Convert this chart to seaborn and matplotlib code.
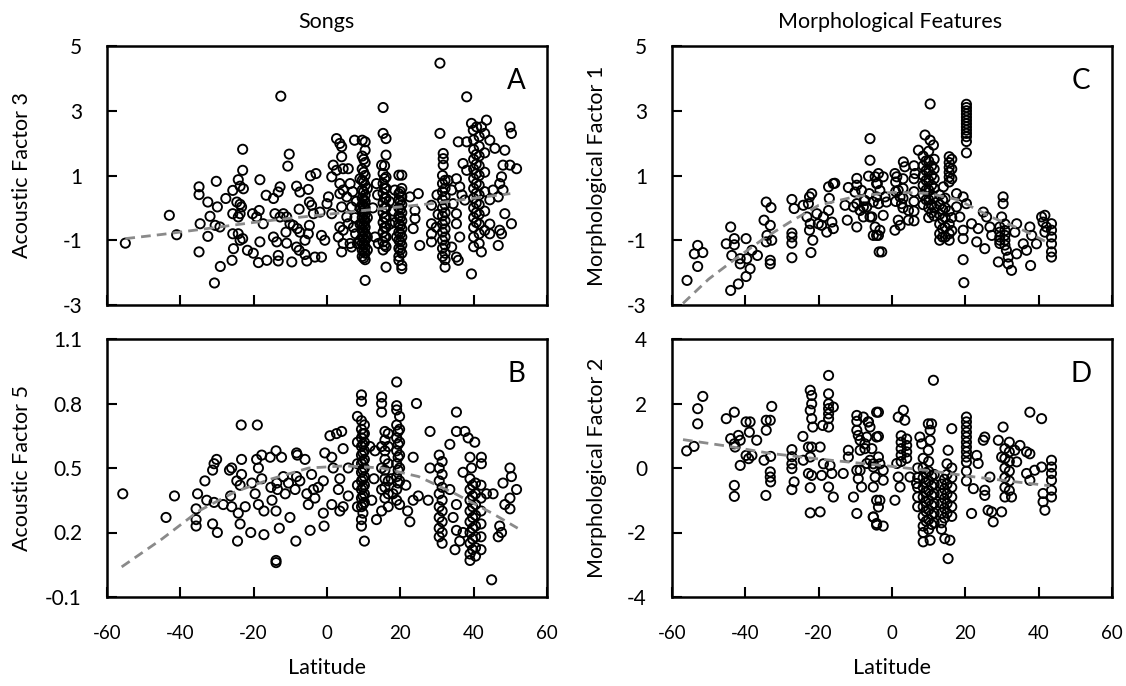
import matplotlib
matplotlib.use("Agg")
import matplotlib.pyplot as plt
import seaborn as sns
import pandas as pd

# ---------------- Panel A: Songs, Acoustic Factor 3 ----------------
A_lat = [
    -55.0, -43.0, -41.0, -34.9, -34.9, -34.6, -34.9, -32.5, -32.5, -31.9, -30.2, -29.9, -30.5, -29.2, -29.1, -30.7,
    -27.6, -25.7, -24.2, -23.7, -22.8, -23.0, -23.0, -25.7, -24.6, -23.7, -23.3, -23.7, -24.2, -25.7, -24.2, -23.7,
    -23.0, -25.5, -25.9, -21.7, -20.1, -18.3, -20.3, -18.5, -19.2, -18.3, -18.7, -16.6, -17.4, -16.4, -14.6, -13.3,
    -12.8, -12.6, -10.3, -10.7, -14.6, -13.7, -13.3, -13.3, -14.2, -12.8, -11.9, -11.0, -11.2, -11.0, -9.6, -10.1,
    -9.2, -8.3, -7.4, -7.6, -8.1, -7.4, -8.3, -7.6, -6.0, -5.5, -5.1, -4.5, -3.0, -4.8, -4.2, -3.7,
    -4.8, -5.1, -6.0, -3.3, -1.5, -1.5, -0.6, -1.9, 0.0, 1.3, 0.4, 1.3, 1.7, 2.6, 3.5, 4.0,
    4.0, 2.6, 4.4, 5.8, 3.5, 4.4, 5.4, 3.5, 4.0, 5.4, 3.5, 4.4, 3.1, 4.4, 6.3, 4.0,
    6.7, 6.3, 6.7, 5.8, 7.5, 8.0, 7.2, 7.8, 8.3, 7.0, 7.6, 14.9, 13.5, 13.1, 14.0, 13.8,
    12.5, 17.0, 17.2, 18.5, 18.2, 18.6, 19.0, 22.6, 24.9, 24.0, 24.0, 23.5, 25.3, 30.8, 30.8, 31.7,
    31.7, 31.7, 28.5, 28.5, 28.5, 28.5, 30.0, 30.3, 29.8, 33.0, 35.3, 34.0, 36.2, 34.4, 35.3, 35.3,
    36.2, 34.0, 35.3, 35.8, 35.8, 38.1, 38.1, 37.1, 38.1, 37.6, 36.8, 39.4, 39.9, 40.8, 42.1, 43.5,
    39.4, 42.1, 44.4, 44.4, 45.8, 48.5, 49.9, 50.3, 48.0, 49.9, 51.7, 47.6, 47.1, 48.0, 45.3, 46.7,
    44.4, 48.5, 50.3, 47.1, 47.6, 44.4, 46.7,
]
A_val = [
    -1.09, -0.23, -0.83, 0.65, 0.41, -0.49, -1.36, 0.18, -0.88, -0.26, 0.82, 0.03, -0.54, -0.59, -1.81, -2.32,
    0.29, 0.54, 0.87, 0.67, 0.59, 1.81, 1.16, -0.18, 0.18, 0.11, 0.03, -0.18, -0.28, -0.80, -0.80, -1.00,
    -0.95, -1.26, -1.62, -1.31, -1.40, 0.87, -0.18, -0.08, -0.28, -1.05, -1.69, 0.39, -0.49, -1.62, 0.29, 0.49,
    0.65, 3.45, 1.66, 1.29, -0.90, -1.05, -1.47, -1.64, -0.18, -0.28, -0.18, -0.28, -0.75, -1.09, -1.67, -0.49,
    -0.54, 0.67, 0.49, -0.04, -0.64, -0.75, -1.21, -1.31, -1.44, -1.64, 0.57, 0.99, 1.06, 0.18, 0.08, -0.18,
    -0.54, -0.80, -1.00, -1.52, -1.52, -0.85, -1.00, -0.13, 0.13, -0.18, 0.34, 0.96, 1.32, 2.14, 1.99, 1.89,
    1.58, 1.16, 1.21, 1.21, 0.75, 0.55, 0.34, 0.44, 0.03, -0.28, -0.59, -0.69, -0.90, -1.10, -1.10, -1.36,
    -1.21, 0.75, 0.03, -0.49, 2.09, 0.20, -0.60, -0.80, -1.10, 0.50, -0.30, 1.32, 0.75, -0.90, -1.10, 0.40,
    0.00, 0.20, -0.50, 0.55, -0.10, -0.45, -0.90, 0.34, 0.44, -0.08, -0.33, -0.64, -1.16, 4.47, 2.30, 1.68,
    1.52, 1.32, 0.08, -0.49, -0.80, -1.05, 0.40, -0.20, -0.60, 0.85, 0.90, 0.55, 0.65, 0.13, -0.18, -0.49,
    -0.90, -1.21, -1.52, -1.62, 2.04, 2.04, 3.43, 1.37, 1.16, 0.24, 0.40, 2.61, 2.40, 2.50, 2.50, 2.71,
    -2.04, -1.36, -0.80, 2.09, 1.84, 1.78, 2.50, 2.30, 1.32, 1.32, 1.21, 0.96, 0.75, 0.55, 0.55, 0.34,
    0.25, -0.18, -0.49, -0.69, -0.80, -0.50, -1.16,
]
A_col_lat = [9.0, 9.6, 10.0, 10.4, 11.0, 15.3, 15.7, 16.1, 19.6, 20.0, 20.4, 31.5, 32.2, 40.0, 40.7, 41.5, 43.0]
A_col_val = [
    [0.9, 0.0, -0.5, -1.0],
    [2.09, 1.6, 1.2, 0.85, 0.55, 0.3, 0.1, -0.1, -0.3, -0.5, -0.7, -0.9, -1.1, -1.3, -1.5],
    [1.5, 1.1, 0.8, 0.5, 0.25, 0.05, -0.15, -0.35, -0.55, -0.75, -0.95, -1.15, -1.35, -1.55],
    [2.04, 1.78, 1.4, 1.0, 0.7, 0.4, 0.2, 0.0, -0.2, -0.4, -0.6, -0.8, -1.0, -1.2, -1.4, -1.6, -2.24],
    [0.6, -0.3, -0.9, -1.3],
    [3.1, 2.3, 1.06, 0.75, 0.45, 0.15, -0.15, -0.45, -0.75, -1.05, -1.3],
    [1.3, 0.9, 0.6, 0.3, 0.0, -0.3, -0.6, -0.9, -1.15],
    [2.14, 1.63, 0.95, 0.6, 0.3, 0.0, -0.3, -0.6, -0.9, -1.2, -1.83],
    [1.01, 0.44, 0.25, 0.0, -0.25, -0.5, -0.75, -1.0, -1.25, -1.5, -1.62],
    [0.5, 0.2, -0.05, -0.3, -0.55, -0.8, -1.05, -1.3],
    [1.01, 0.6, 0.35, 0.1, -0.15, -0.4, -0.65, -0.9, -1.15, -1.4, -1.78, -1.88],
    [1.0, 0.75, 0.5, 0.25, 0.0, -0.25, -0.5, -0.75, -1.0, -1.25, -1.5],
    [0.85, 0.6, 0.35, 0.1, -0.15, -0.4, -0.65, -0.9, -1.15, -1.4, -1.6, -1.83],
    [2.1, 1.8, 1.5, 1.2, 0.9, 0.6, 0.3, 0.0, -0.3, -0.6, -0.9, -1.2],
    [1.65, 1.35, 1.05, 0.75, 0.45, 0.15, -0.15, -0.45],
    [2.2, 1.9, 1.6, 1.3, 1.0, 0.7, 0.4, 0.1, -0.2, -0.5, -0.8, -1.1],
    [2.3, 1.7, 1.1, 0.5, -0.1, -0.7],
]
A_trend_lat = [-55, -45, -30, -20, -10, 0, 10, 20, 30, 40, 50]
A_trend_val = [-0.95, -0.82, -0.60, -0.45, -0.32, -0.20, -0.08, 0.03, 0.15, 0.30, 0.44]

# ---------------- Panel B: Songs, Acoustic Factor 5 ----------------
B_lat = [
    -55.7, -43.9, -41.6, -35.3, -35.7, -35.7, -35.7, -33.3, -32.8, -31.2, -29.9, -31.2, -30.8, -30.1, -30.8, -28.3,
    -26.6, -26.0, -26.0, -26.3, -24.4, -24.2, -23.7, -24.6, -23.7, -23.3, -23.3, -22.3, -23.4, -19.0, -20.8, -20.5,
    -19.6, -19.2, -18.7, -18.7, -17.8, -17.8, -17.2, -17.2, -15.5, -15.3, -15.0, -13.9, -13.7, -13.5, -13.9, -13.9,
    -13.9, -13.0, -12.4, -11.9, -11.4, -10.5, -10.1, -8.7, -8.3, -8.1, -8.3, -8.5, -7.4, -6.0, -5.5, -5.1,
    -4.6, -4.2, -3.7, -3.3, -2.4, -1.0, -1.0, -0.8, -0.6, 0.8, 1.3, 1.7, 1.3, 2.6, 4.0, 4.4,
    3.5, 3.1, 3.5, 4.4, 5.8, 5.8, 11.7, 13.1, 12.2, 13.5, 12.8, 22.6, 23.5, 24.4, 23.5, 24.9,
    27.6, 28.1, 28.1, 33.5, 35.3, 35.3, 37.6, 38.5, 40.3, 39.0, 42.1, 42.1, 37.1, 39.4, 33.5, 35.3,
    34.4, 35.3, 34.9, 36.2, 37.1, 44.9, 43.5, 45.3, 47.1, 47.6, 46.7, 48.0, 49.9, 50.3, 51.7, 49.9,
    49.9, 48.5, 17.5, 18.0, 21.5, 22.0,
]
B_val = [
    0.38, 0.27, 0.37, 0.38, 0.31, 0.26, 0.23, 0.44, 0.35, 0.24, 0.20, 0.49, 0.52, 0.54, 0.34, 0.33,
    0.49, 0.50, 0.32, 0.37, 0.16, 0.29, 0.24, 0.44, 0.42, 0.54, 0.47, 0.32, 0.70, 0.70, 0.20, 0.43,
    0.38, 0.54, 0.50, 0.33, 0.56, 0.45, 0.30, 0.19, 0.55, 0.41, 0.35, 0.58, 0.43, 0.40, 0.30, 0.07,
    0.06, 0.22, 0.55, 0.46, 0.38, 0.43, 0.27, 0.40, 0.57, 0.56, 0.46, 0.16, 0.44, 0.54, 0.38, 0.33,
    0.21, 0.47, 0.40, 0.36, 0.41, 0.44, 0.29, 0.23, 0.57, 0.65, 0.55, 0.50, 0.33, 0.66, 0.67, 0.59,
    0.45, 0.40, 0.30, 0.32, 0.37, 0.50, 0.60, 0.58, 0.35, 0.26, 0.45, 0.25, 0.55, 0.80, 0.35, 0.37,
    0.35, 0.67, 0.50, 0.61, 0.76, 0.67, 0.67, 0.64, 0.62, 0.55, 0.55, 0.52, 0.48, 0.50, 0.40, 0.33,
    0.27, 0.21, 0.12, 0.16, 0.20, -0.02, 0.38, 0.38, 0.23, 0.20, 0.18, 0.43, 0.50, 0.46, 0.40, 0.36,
    0.31, 0.33, 0.45, 0.38, 0.42, 0.30,
]
B_col_lat = [8.3, 9.4, 9.8, 10.2, 14.9, 15.8, 16.7, 19.0, 19.4, 19.8, 30.6, 31.4, 39.0, 39.7, 40.5, 42.0]
B_col_val = [
    [0.74, 0.62, 0.52, 0.42, 0.32],
    [0.84, 0.81, 0.72, 0.68, 0.64, 0.60, 0.56, 0.52, 0.48, 0.44, 0.40, 0.36, 0.32, 0.26, 0.23],
    [0.66, 0.61, 0.57, 0.53, 0.49, 0.45, 0.41, 0.37, 0.33, 0.29],
    [0.70, 0.66, 0.62, 0.58, 0.54, 0.50, 0.46, 0.42, 0.38, 0.34, 0.16],
    [0.83, 0.80, 0.76, 0.60, 0.50, 0.40, 0.30],
    [0.67, 0.63, 0.58, 0.54, 0.49, 0.45, 0.41, 0.36],
    [0.66, 0.60, 0.52, 0.44, 0.38, 0.32],
    [0.90, 0.79, 0.77, 0.70, 0.64, 0.58, 0.52, 0.46, 0.40, 0.35],
    [0.67, 0.61, 0.55, 0.49, 0.43],
    [0.74, 0.68, 0.62, 0.56, 0.50, 0.44, 0.33],
    [0.56, 0.50, 0.44, 0.38, 0.32, 0.27, 0.22, 0.18],
    [0.53, 0.47, 0.41, 0.35, 0.30, 0.25, 0.20, 0.15],
    [0.45, 0.40, 0.35, 0.30, 0.25, 0.20, 0.15, 0.10, 0.07],
    [0.42, 0.37, 0.32, 0.27, 0.22, 0.17, 0.12],
    [0.43, 0.38, 0.33, 0.28, 0.23, 0.18, 0.13, 0.09],
    [0.42, 0.36, 0.30, 0.24, 0.18, 0.12],
]
B_trend_lat = [-56, -45, -35, -25, -15, -5, 5, 15, 25, 35, 45, 52]
B_trend_val = [0.04, 0.17, 0.30, 0.39, 0.45, 0.50, 0.51, 0.50, 0.46, 0.38, 0.29, 0.22]

# ---------------- Panel C: Morphological Factor 1 ----------------
C_lat = [
    -55.9, -53.9, -53.0, -51.6, -53.0, -45.2, -44.0, -43.0, -43.0, -43.7, -41.4, -41.4, -41.9, -44.0, -39.8, -39.6,
    -38.7, -39.8, -38.2, -36.7, -34.9, -34.3, -33.0, -33.2, -34.1, -34.3, -32.8, -33.2, -33.2, -27.3, -26.7, -27.3,
    -27.3, -27.3, -27.3, -24.2, -22.5, -21.9, -22.8, -23.2, -22.3, -22.5, -21.6, -22.1, -20.5, -20.1, -19.2, -18.7,
    -17.8, -17.3, -17.1, -17.3, -16.4, -16.0, -15.6, -16.0, -11.9, -12.8, -12.2, -10.5, -9.6, -9.6, -10.1, -9.6,
    -9.6, -8.7, -7.8, -7.6, -6.0, -6.0, -6.4, -6.2, -6.0, -5.1, -5.1, -4.0, -4.2, -3.5, -8.3, -7.4,
    -6.9, -7.8, -4.6, -3.7, -2.4, -4.2, -3.3, -4.2, -3.7, -1.9, -1.5, -2.4, -5.5, -4.6, -3.3, -3.7,
    -2.8, 0.8, 1.3, 3.1, 3.5, 1.7, 2.2, 2.6, 4.5, 1.7, 2.2, 0.8, 4.5, 6.3, 7.2, 9.0,
    10.4, 10.4, 11.3, 14.0, 17.6, 17.6, 19.4, 20.3, 18.5, 19.4, 19.4, 19.4, 19.6, 20.3, 21.7, 23.5,
    23.1, 25.3, 24.9, 25.8, 26.7, 27.2, 30.3, 30.3, 29.9, 29.0, 31.2, 31.7, 31.7, 32.6, 34.0, 33.5,
    34.0, 35.8, 36.7, 37.6, 38.1, 37.8, 39.4, 40.8, 41.2, 41.7, 42.1, 41.7,
]
C_val = [
    -2.24, -1.42, -1.16, -1.38, -1.81, -1.11, -0.59, -0.95, -1.14, -1.47, -1.57, -1.73, -2.35, -2.55, -0.95, -1.57,
    -1.88, -2.12, -1.31, -1.47, -0.38, 0.18, 0.01, -0.54, -0.85, -1.05, -1.00, -1.62, -1.73, 0.26, -0.02, -0.78,
    -0.90, -1.09, -1.54, 0.08, 0.34, 0.44, 0.13, -0.28, -0.49, -0.69, -1.00, -1.38, -0.18, -0.49, -0.54, -0.28,
    -0.75, 0.65, 0.29, -0.08, -0.44, 0.75, 0.76, -0.64, 0.63, 0.08, -0.38, 0.03, 0.91, 0.70, 0.49, 0.13,
    -0.59, -0.08, 0.03, 0.23, 2.14, 1.47, 0.98, 0.44, -0.28, 0.18, -0.85, 0.75, -0.85, -1.36, 0.54, 0.23,
    0.03, -0.28, 0.96, 1.06, 0.96, 0.75, 0.54, 0.34, 0.13, 0.34, 0.18, -0.23, -0.28, -0.59, -0.69, -0.85,
    -1.36, 1.06, 0.96, 1.42, 1.27, 0.54, 0.34, 0.13, -0.08, -0.38, -0.54, -0.69, -0.38, 1.06, 1.78, 2.25,
    3.21, 2.09, 1.94, 0.65, 0.44, 0.03, 0.34, 0.13, -0.28, -0.69, -0.95, -1.60, -2.31, 1.70, -0.49, -0.64,
    -1.05, -1.26, -0.13, -0.28, -0.59, -0.85, 0.34, 0.13, -0.28, -1.67, -1.31, -1.52, -1.73, -1.93, -0.49, -0.75,
    -1.42, -1.11, -1.31, -0.59, -0.85, -1.78, -1.11, -0.28, -0.44, -0.23, -0.59, -0.75,
]
C_col_lat = [1.0, 3.0, 6.0, 8.5, 9.3, 10.0, 10.8, 11.5, 13.0, 13.8, 14.5, 15.6, 16.3, 20.3, 29.4, 30.8, 43.5]
C_col_val = [
    [0.8, 0.5, 0.2],
    [0.9, 0.6, 0.3, 0.0],
    [1.3, 0.9, 0.5, 0.2, -0.1, -0.4],
    [1.6, 1.3, 1.0, 0.7, 0.4, 0.1],
    [1.45, 1.15, 0.85, 0.55, 0.25],
    [1.75, 1.45, 1.15, 0.85, 0.55, 0.25, 0.0, -0.3],
    [1.3, 1.0, 0.7, 0.4, 0.1, -0.15],
    [1.5, 1.2, 0.9, 0.6, 0.3, 0.0, -0.25],
    [0.4, 0.1, -0.2, -0.5, -0.8, -1.0],
    [0.25, -0.05, -0.35, -0.65, -0.9],
    [0.3, 0.0, -0.3, -0.6, -0.9],
    [1.58, 1.4, 1.25, 1.1, 0.95, 0.8, -0.1, -0.5, -0.8, -1.0],
    [1.5, 1.2, 0.9, -0.3, -0.7],
    [3.2, 3.1, 3.0, 2.9, 2.8, 2.7, 2.6, 2.5, 2.4, 2.3, 2.2, 2.05],
    [-0.59, -0.75, -0.9, -1.0, -1.1],
    [-0.5, -0.7, -0.85, -1.0, -1.15],
    [-0.49, -0.69, -0.9, -1.11, -1.36, -1.52],
]
C_trend_lat = [-57, -50, -43, -35, -28, -20, -10, 0, 10, 18, 27, 36, 43]
C_trend_val = [-2.95, -2.20, -1.60, -0.95, -0.45, 0.08, 0.35, 0.48, 0.45, 0.25, -0.28, -0.70, -1.10]

# ---------------- Panel D: Morphological Factor 2 ----------------
D_lat = [
    -56.0, -54.0, -53.0, -53.0, -51.6, -45.2, -43.0, -44.0, -43.0, -42.8, -41.9, -41.4, -41.4, -43.0, -43.0, -39.8,
    -38.7, -38.9, -39.8, -39.1, -38.2, -36.9, -34.3, -34.3, -33.2, -32.8, -34.9, -33.1, -33.2, -33.2, -33.1, -34.4,
    -27.3, -27.3, -27.3, -27.3, -26.7, -27.3, -24.3, -24.2, -22.8, -22.3, -21.9, -21.9, -22.3, -21.9, -21.6, -21.9,
    -22.3, -22.8, -21.9, -22.3, -22.3, -19.6, -19.6, -19.2, -18.7, -18.9, -17.3, -17.3, -17.3, -17.3, -17.3, -17.3,
    -17.3, -16.0, -16.9, -17.3, -16.0, -16.4, -13.3, -11.9, -11.9, -10.5, -9.6, -9.6, -9.6, -9.6, -9.2, -8.7,
    -6.4, -6.0, -7.4, -8.7, -9.6, -9.2, -8.3, -6.0, -5.1, -4.2, -4.2, -5.1, -4.2, -4.2, -7.8, -6.5,
    -6.9, -7.4, -5.5, -8.7, -6.9, -5.1, -3.7, -3.3, -4.6, -2.4, -2.4, -3.7, -3.7, -5.1, -3.3, -3.7,
    -5.1, -4.2, -2.4, 1.7, 3.1, 3.5, 1.3, 1.7, 2.2, 0.8, 4.9, 6.7, 7.6, 8.1, 8.5, 10.4,
    11.3, 9.9, 10.8, 10.4, 10.4, 9.9, 16.3, 15.3, 15.3, 14.4, 15.8, 21.7, 22.2, 23.1, 23.5, 24.9,
    25.3, 25.3, 25.3, 26.2, 27.2, 27.6, 26.7, 29.9, 30.3, 29.0, 29.9, 30.8, 32.6, 33.5, 34.0, 34.9,
    36.7, 37.6, 36.7, 37.6, 38.9, 37.6, 40.8, 40.8, 41.2, 41.2, 41.7,
]
D_val = [
    0.53, 0.67, 1.37, 1.84, 2.22, 1.53, 1.73, 0.91, 0.75, 0.65, 1.01, 0.86, 0.08, -0.54, -0.88, 1.43,
    1.43, 1.11, 0.39, 0.29, 0.39, 0.86, 1.17, 1.48, 1.48, 1.91, 0.24, 0.36, -0.12, -0.28, -0.43, -0.85,
    0.57, 0.35, 0.13, -0.02, -0.43, -0.67, 0.98, 0.24, 0.65, 2.41, 2.25, 1.99, 1.79, 1.53, 1.27, 0.65,
    0.34, -0.17, -0.23, -0.61, -1.39, -1.36, 0.65, -0.23, 0.13, 1.32, 2.87, 2.30, 1.99, 1.84, 1.68, 1.53,
    1.27, 1.89, 0.08, -0.59, -0.90, -0.17, -0.17, 0.55, 0.34, -0.90, -1.41, 1.63, 1.45, 1.17, 1.01, 0.86,
    1.43, 1.27, 0.75, 0.55, -0.07, -0.33, -0.59, 0.24, 0.13, 1.73, 0.96, -1.52, -1.00, -1.72, 1.58, 1.43,
    0.96, 0.60, 0.60, -0.07, 0.14, 0.03, 0.34, 0.13, -0.28, -0.07, -0.38, 1.73, 0.98, -0.59, -1.00, -1.21,
    -1.52, -1.77, -1.80, 1.58, 1.79, 1.48, 0.14, -0.28, -0.59, -1.00, -0.28, -0.48, 0.96, 0.75, -2.29, -2.24,
    2.72, 1.37, 1.37, 1.17, 0.86, 0.55, 1.22, 0.55, -2.81, -2.19, -2.24, -1.41, -0.64, 0.39, 0.14, 0.86,
    0.96, -0.69, -0.85, -1.31, -1.36, -1.67, -0.28, -1.36, 1.27, 0.86, 0.34, -0.90, -0.90, 0.55, 0.19, 0.70,
    0.50, 0.44, -0.17, -0.38, -0.07, 1.73, 1.53, 0.03, -0.79, -1.05, -1.31,
]
D_col_lat = [2.5, 4.0, 7.0, 8.5, 9.3, 10.0, 10.8, 11.5, 13.5, 14.3, 15.0, 16.3, 20.3, 30.8, 32.0, 43.5]
D_col_val = [
    [1.0, 0.8, 0.6, 0.4, 0.2],
    [0.9, 0.7, 0.5, 0.3],
    [0.0, -0.3, -0.6, -0.9, -1.2],
    [0.3, 0.0, -0.3, -0.6, -0.9, -1.2, -1.5, -1.8, -2.0],
    [-0.15, -0.45, -0.75, -1.05, -1.35, -1.65],
    [0.2, -0.1, -0.4, -0.7, -1.0, -1.3, -1.6, -1.9],
    [-0.25, -0.55, -0.85, -1.15, -1.45, -1.75],
    [-0.2, -0.5, -0.8, -1.1, -1.4, -1.7],
    [-0.5, -0.8, -1.1, -1.4, -1.7, -1.9],
    [-0.35, -0.65, -0.95, -1.25, -1.55],
    [0.13, -0.2, -0.5, -0.8, -1.1, -1.4],
    [0.0, -0.3, -0.6, -0.9, -1.2, -1.5],
    [1.58, 1.43, 1.27, 1.11, 0.96, 0.8, 0.65, 0.5, 0.34, 0.18, -0.1, -0.4],
    [0.6, 0.3, 0.0, -0.3, -0.6],
    [0.8, 0.5, 0.2, -0.1, -0.4, -0.7],
    [0.24, 0.03, -0.17, -0.38, -0.69, -0.9],
]
D_trend_lat = [-57, -45, -33, -20, -8, 0, 10, 22, 33, 43]
D_trend_val = [0.88, 0.68, 0.45, 0.28, 0.14, 0.05, -0.08, -0.27, -0.42, -0.55]

x_ticks = [-60, -40, -20, 0, 20, 40, 60]
column_titles = ["Songs", "Morphological Features"]
y_labels = ["Acoustic Factor 3", "Acoustic Factor 5", "Morphological Factor 1", "Morphological Factor 2"]
panel_letters = ["A", "B", "C", "D"]
y_ticks = [[-3, -1, 1, 3, 5], [-0.1, 0.2, 0.5, 0.8, 1.1], [-3, -1, 1, 3, 5], [-4, -2, 0, 2, 4]]
y_ticklabels = [["-3", "-1", "1", "3", "5"], ["-0.1", "0.2", "0.5", "0.8", "1.1"],
                ["-3", "-1", "1", "3", "5"], ["-4", "-2", "0", "2", "4"]]


def build(lat, val, col_lat, col_val):
    xs = list(lat)
    ys = list(val)
    for cx, cv in zip(col_lat, col_val):
        xs += [cx] * len(cv)
        ys += list(cv)
    return pd.DataFrame({"Latitude": xs, "Value": ys})


sns.set_theme(style="white")
plt.rcParams["font.family"] = ["Lato", "DejaVu Sans"]
plt.rcParams["axes.unicode_minus"] = False
for k in ["text.color", "axes.labelcolor", "xtick.color", "ytick.color"]:
    plt.rcParams[k] = "black"

W, H = 1126, 686
fig = plt.figure(figsize=(W / 100, H / 100), dpi=100)

# axes boxes in pixels: left, top, right, bottom
boxes = {
    "A": (107, 46, 547, 305),
    "B": (107, 339, 547, 597),
    "C": (672, 46, 1112, 305),
    "D": (672, 339, 1112, 597),
}
panels = {
    "A": (build(A_lat, A_val, A_col_lat, A_col_val), A_trend_lat, A_trend_val, (-3, 5)),
    "B": (build(B_lat, B_val, B_col_lat, B_col_val), B_trend_lat, B_trend_val, (-0.1, 1.1)),
    "C": (build(C_lat, C_val, C_col_lat, C_col_val), C_trend_lat, C_trend_val, (-3, 5)),
    "D": (build(D_lat, D_val, D_col_lat, D_col_val), D_trend_lat, D_trend_val, (-4, 4)),
}

for i, key in enumerate(["A", "B", "C", "D"]):
    l, t, r, b = boxes[key]
    ax = fig.add_axes([l / W, 1 - b / H, (r - l) / W, (b - t) / H])
    df, tx, ty, ylim = panels[key]
    sns.scatterplot(data=df, x="Latitude", y="Value", ax=ax, marker="o", s=44,
                    facecolor="none", edgecolor="black", linewidth=1.35, zorder=2)
    sns.lineplot(x=tx, y=ty, ax=ax, color="#8a8a8a", linestyle=(0, (3.5, 2.2)),
                 linewidth=2.0, zorder=3)
    ax.set_xlim(-60, 60)
    ax.set_ylim(*ylim)
    ax.set_xticks(x_ticks)
    ax.set_yticks(y_ticks[i])
    ax.set_yticklabels(y_ticklabels[i])
    for sp in ax.spines.values():
        sp.set_linewidth(1.8)
        sp.set_color("black")
    ax.tick_params(axis="both", which="major", direction="in", length=7, width=1.5,
                   color="black", bottom=True, left=True, top=False, right=False)
    ax.tick_params(axis="y", labelsize=15, pad=18)
    ax.tick_params(axis="x", labelsize=13.5, pad=20)
    bottom = key in ("B", "D")
    if bottom:
        ax.set_xlabel("Latitude", fontsize=15.5)
        ax.xaxis.set_label_coords(0.5, -0.235)
    else:
        ax.set_xlabel("")
        ax.tick_params(axis="x", labelbottom=False)
    ax.set_ylabel(y_labels[i], fontsize=15.5)
    ax.yaxis.set_label_coords(-0.17 if key in ("A", "B") else -0.148, 0.5)
    ax.text(0.93, 0.865, panel_letters[i], transform=ax.transAxes, fontsize=20,
            ha="center", va="center")

fig.text(326 / W, 1 - 22 / H, column_titles[0], fontsize=15.5, ha="center", va="center")
fig.text(890 / W, 1 - 22 / H, column_titles[1], fontsize=15.5, ha="center", va="center")

fig.savefig("out.png", dpi=100)
